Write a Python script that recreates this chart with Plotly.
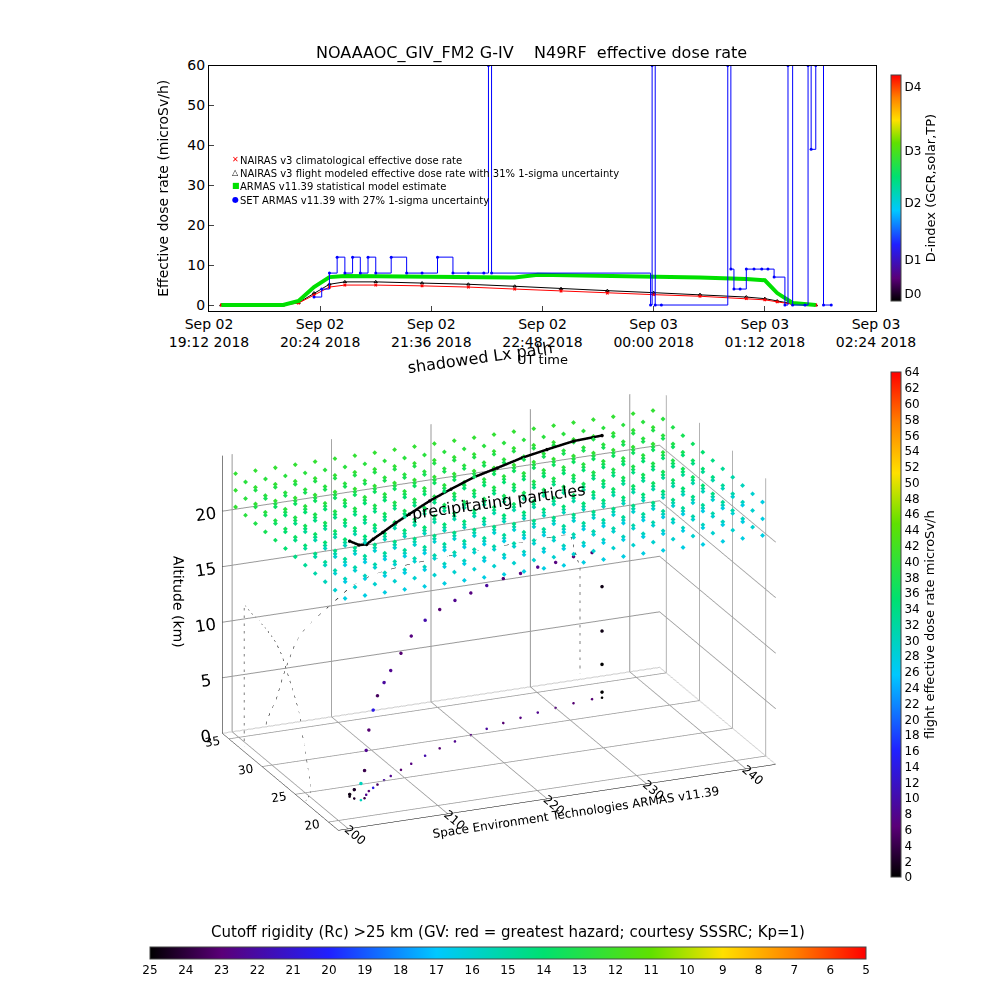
import plotly.graph_objects as go
from datetime import datetime

def tt(h, m, d=2):
    return datetime(2018, 9, d, h, m)

nairas_t = [tt(19,20),tt(19,40),tt(20,0),tt(20,10),tt(20,20),tt(20,30),tt(20,40),tt(21,0),tt(21,30),tt(22,0),tt(22,30),tt(23,0),tt(23,30),tt(0,0,3),tt(0,30,3),tt(1,0,3),tt(1,12,3),tt(1,20,3),tt(1,30,3),tt(1,45,3)]
nairas_clim = [0,0,0,0.5,2.5,4.5,5,5,4.8,4.5,4,3.5,3,2.6,2.2,1.6,1.3,0.8,0.2,0]
nairas_flt = [0,0,0,0.6,3,5.2,5.8,5.8,5.5,5.2,4.7,4.1,3.6,3.1,2.6,2,1.6,1,0.3,0]
armas_t = [tt(19,20),tt(19,40),tt(20,0),tt(20,10),tt(20,20),tt(20,30),tt(20,40),tt(21,0),tt(21,30),tt(22,0),tt(22,30),tt(22,45),tt(23,0),tt(23,30),tt(0,0,3),tt(0,30,3),tt(1,0,3),tt(1,12,3),tt(1,20,3),tt(1,30,3),tt(1,45,3)]
armas_val = [0,0,0,1,4.5,7,7.3,7.2,7.1,7,6.9,7.6,7.5,7.4,7.3,6.9,6.5,6.2,3,0.5,0]
set_t = [tt(20,20),tt(20,25),tt(20,30),tt(20,35),tt(20,40),tt(20,45),tt(20,50),tt(20,55),tt(21,0),tt(21,10),tt(21,20),tt(21,30),tt(21,40),tt(21,50),tt(22,0),tt(22,10),tt(22,13),tt(22,15),
         tt(23,58),tt(23,59),tt(0,1,3),tt(0,5,3),tt(0,48,3),tt(0,50,3),tt(0,52,3),tt(0,56,3),tt(1,0,3),tt(1,5,3),tt(1,10,3),tt(1,14,3),tt(1,18,3),tt(1,25,3),tt(1,27,3),tt(1,30,3),tt(1,38,3),tt(1,40,3),tt(1,42,3),tt(1,45,3),tt(1,50,3),tt(1,55,3)]
set_val = [2,4,8,12,8,12,8,12,8,12,8,8,12,8,8,8,60,8,
           0,60,0,0,60,9,4,4,9,9,9,9,7,0,60,0,0,60,39,60,0,0]

flight_lon = [203.4,203.6,204,204.5,205,205.6,206.3,207,208,209,210.5,212,214,216,218,220,222,224,226,228,230,232,234,235,235,235,235]
flight_lat = [23.4,23.0,22.6,22.8,23.3,23.8,24.2,24.6,25.1,25.6,26.3,27.0,27.9,28.7,29.4,30.0,30.6,31.1,31.5,31.9,32.2,32.5,32.7,32.7,32.7,32.7,32.7]
flight_alt = [0.2,0.8,1.5,2.5,4.0,5.5,7.0,8.0,8.8,9.5,10.5,11.5,12.2,12.5,12.7,12.8,12.9,13.0,13.0,13.1,13.1,13.2,13.2,10,6,3,0.5]
flight_dose = [1,2,30,4,8,6,14,5,9,8,6,7,10,6,8,7,9,6,7,8,7,6,6,1,1,0,0]

grid_lon = [196,198,200,202,204,206,208,210,212,214,216,218,220,222,224,226,228,230,232,234,236,238,240,242]
grid_lat = [19,20.5,22,23.5,25,26.5,28,29.5,31,32.5,34,35.5]
rigidity_by_lat = [16.4,16,15.6,15.2,14.8,14.4,14,13.6,13.3,13,12.7,12.4]
grid_alt = [20.5, 22, 23.5]

lx_lon = [203.4,203.8,204.5,205.5,207,209,211,214,217,220,223,226,229,232,235]
lx_lat = [23.4,22.6,22.5,23.0,23.8,24.8,25.8,27.2,28.5,29.6,30.5,31.3,32.0,32.5,32.7]
lx_alt = [23.0,23.0,23.0,23.1,23.1,23.2,23.2,23.3,23.3,23.4,23.4,23.5,23.5,23.6,23.6]

rainbow = [[0,'#000000'],[0.1,'#5a0078'],[0.25,'#2020ff'],[0.4,'#00c8ff'],[0.55,'#00e070'],[0.7,'#60e000'],[0.8,'#ffe000'],[0.9,'#ff8000'],[1,'#ff0000']]

fig = go.Figure()
fig.add_trace(go.Scatter(x=nairas_t, y=nairas_flt, mode='lines+markers', line=dict(color='black', width=1),
                         marker=dict(symbol='triangle-up-open', size=3, color='black'), showlegend=False))
fig.add_trace(go.Scatter(x=nairas_t, y=nairas_clim, mode='lines+markers', line=dict(color='red', width=1),
                         marker=dict(symbol='x', size=3, color='red'), showlegend=False))
fig.add_trace(go.Scatter(x=armas_t, y=armas_val, mode='lines', line=dict(color='#00e000', width=4), showlegend=False))
fig.add_trace(go.Scatter(x=set_t, y=set_val, mode='lines+markers', line=dict(color='blue', width=1, shape='hv'),
                         marker=dict(symbol='circle', size=3, color='blue'), showlegend=False))
fig.add_trace(go.Scatter(x=[tt(19,12)], y=[-10], mode='markers', showlegend=False,
    marker=dict(size=0.1, color=[0], cmin=0, cmax=60, colorscale=rainbow,
    colorbar=dict(x=0.905, xanchor='left', y=0.702, yanchor='bottom', len=0.248, thickness=10,
                  tickvals=[2,11,26,40,57], ticktext=['D0','D1','D2','D3','D4'], tickfont=dict(size=12),
                  title=dict(text='D-index (GCR,solar,TP)', side='right', font=dict(size=13)), outlinewidth=1))))

legend = [('NAIRAS v3 climatological effective dose rate','red','✕'),
          ('NAIRAS v3 flight modeled effective dose rate with 31% 1-sigma uncertainty','black','△'),
          ('ARMAS v11.39 statistical model estimate','#00e000','■'),
          ('SET ARMAS v11.39 with 27% 1-sigma uncertainty','blue','●')]
for i,(txt,c,s) in enumerate(legend):
    fig.add_annotation(xref='paper', yref='paper', x=0.207, y=0.862-i*0.0135, text=txt, showarrow=False,
                       xanchor='left', font=dict(size=10, color='black'))
    fig.add_annotation(xref='paper', yref='paper', x=0.204, y=0.862-i*0.0135, text=s,
                       showarrow=False, xanchor='center', font=dict(size=8, color=c))

gl, ga, gr, gz = [], [], [], []
for j, la in enumerate(grid_lat):
    for lo in grid_lon:
        for z in grid_alt:
            gl.append(lo); ga.append(la); gr.append(-rigidity_by_lat[j]); gz.append(z)
fig.add_trace(go.Scatter3d(x=gl, y=ga, z=gz, mode='markers', showlegend=False,
    marker=dict(size=1.6, symbol='diamond', color=gr, cmin=-25, cmax=-5, colorscale=rainbow,
    colorbar=dict(orientation='h', x=0.1, xanchor='left', y=0.088, yanchor='top', len=0.8, thickness=12,
                  tickvals=[-v for v in range(25,4,-1)], ticktext=[str(v) for v in range(25,4,-1)], tickfont=dict(size=12),
                  title=dict(text='Cutoff rigidity (Rc) >25 km (GV: red = greatest hazard; courtesy SSSRC; Kp=1)', side='top', font=dict(size=15)),
                  outlinewidth=1))))
fig.add_trace(go.Scatter3d(x=lx_lon, y=lx_lat, z=lx_alt, mode='lines+markers', line=dict(color='black', width=5),
                           marker=dict(size=2, color='black'), showlegend=False))
fig.add_trace(go.Scatter3d(x=flight_lon, y=flight_lat, z=flight_alt, mode='markers', showlegend=False,
    marker=dict(size=2, color=flight_dose, cmin=0, cmax=64, colorscale=rainbow,
    colorbar=dict(x=0.905, xanchor='left', y=0.12, yanchor='bottom', len=0.53, thickness=10,
                  tickvals=list(range(0,65,2)), tickfont=dict(size=12),
                  title=dict(text='flight effective dose rate microSv/h', side='right', font=dict(size=13)), outlinewidth=1))))
fig.add_trace(go.Scatter3d(x=flight_lon, y=flight_lat, z=[0]*len(flight_lon), mode='markers', showlegend=False,
    marker=dict(size=1.5, color=flight_dose, cmin=0, cmax=64, colorscale=rainbow)))
fig.add_trace(go.Scatter3d(x=[199]*len(flight_lat), y=flight_lat, z=flight_alt, mode='lines', showlegend=False,
    line=dict(color='black', width=1, dash='dash')))
fig.add_trace(go.Scatter3d(x=flight_lon, y=[36]*len(flight_lon), z=flight_alt, mode='lines', showlegend=False,
    line=dict(color='black', width=1, dash='dash')))

fig.update_layout(
    width=1000, height=1000, paper_bgcolor='white', plot_bgcolor='white',
    margin=dict(l=0, r=0, t=0, b=0),
    font=dict(family='DejaVu Sans', color='black'),
    xaxis=dict(domain=[0.175, 0.9], range=[tt(19,12), tt(2,24,3)], anchor='y',
               tickvals=[tt(19,12),tt(20,24),tt(21,36),tt(22,48),tt(0,0,3),tt(1,12,3),tt(2,24,3)],
               ticktext=['Sep 02<br>19:12 2018','Sep 02<br>20:24 2018','Sep 02<br>21:36 2018','Sep 02<br>22:48 2018','Sep 03<br>00:00 2018','Sep 03<br>01:12 2018','Sep 03<br>02:24 2018'],
               showgrid=False, showline=True, linecolor='black', mirror=True, ticks='inside', tickfont=dict(size=14),
               title=dict(text='UT time', font=dict(size=13), standoff=5)),
    yaxis=dict(domain=[0.702, 0.95], range=[-1.5, 60], anchor='x', dtick=10, showgrid=False, showline=True,
               linecolor='black', mirror=True, ticks='inside', tickfont=dict(size=14), zeroline=False,
               title=dict(text='Effective dose rate (microSv/h)', font=dict(size=14))),
    scene=dict(domain=dict(x=[0.08, 0.9], y=[0.1, 0.7]),
               xaxis=dict(range=[199, 243], title=dict(text='Space Environment Technologies ARMAS v11.39', font=dict(size=12)), tickvals=[200,210,220,230,240], showbackground=False, gridcolor='#999', linecolor='black'),
               yaxis=dict(range=[18.5, 36], title='', tickvals=[20,25,30,35], showbackground=False, gridcolor='#999', linecolor='black'),
               zaxis=dict(range=[0, 25], title=dict(text='Altitude (km)', font=dict(size=14)), tickvals=[0,5,10,15,20], showbackground=False, gridcolor='#999', linecolor='black', tickfont=dict(size=14)),
               aspectmode='manual', aspectratio=dict(x=1.6, y=1.0, z=1.0),
               camera=dict(eye=dict(x=-0.68, y=-1.6, z=0.66), center=dict(x=0, y=0, z=0), projection=dict(type='orthographic'))),
)
fig.add_annotation(xref='paper', yref='paper', x=0.525, y=0.975, text='NOAAAOC_GIV_FM2 G-IV    N49RF  effective dose rate',
                   showarrow=False, font=dict(size=16))
fig.add_annotation(xref='paper', yref='paper', x=0.49, y=0.51, text='precipitating particles', showarrow=False,
                   font=dict(size=16), textangle=-8)
fig.add_annotation(xref='paper', yref='paper', x=0.47, y=0.655, text='shadowed Lx path', showarrow=False,
                   font=dict(size=16), textangle=-8)
fig.write_html('out.html')
